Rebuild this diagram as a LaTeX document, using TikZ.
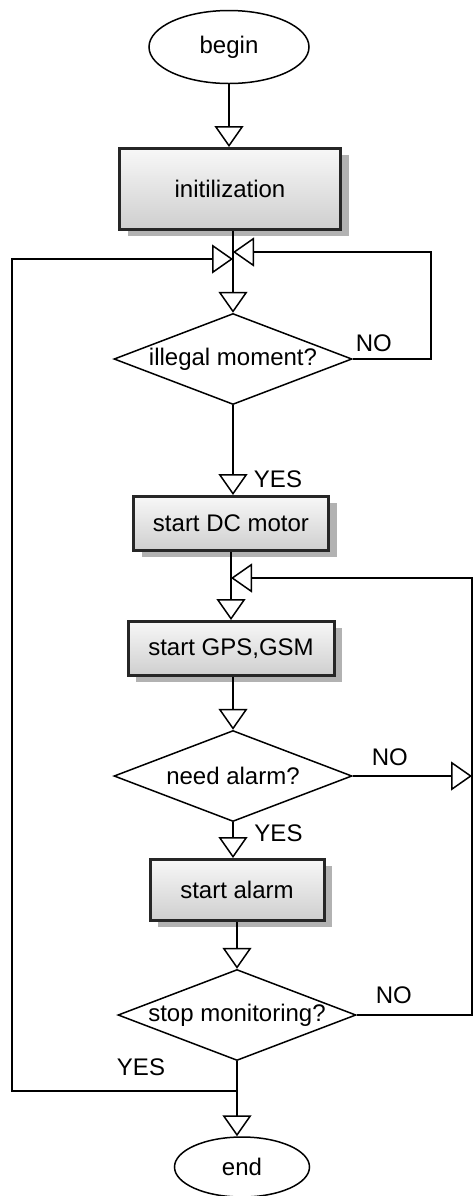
\documentclass[tikz,border=0pt]{standalone}
\usepackage{fontspec}
\setmainfont{Liberation Sans}
\usetikzlibrary{positioning,shapes.geometric,arrows.meta,shadows}

\begin{document}
\begin{tikzpicture}[%
x=0.5pt, y=0.5pt,
node distance=60pt,
on grid,
font=\fontsize{12}{14}\selectfont,
line width=0.75pt,
flow/.style={draw, -{Triangle[length=10.5pt,width=14.5pt,fill=white]}},
term/.style={ellipse, draw, inner sep=0pt},
proc/.style={rectangle, draw=black!85, line width=1.5pt, top color=gray!6,
  bottom color=gray!38, minimum height=27pt,
  drop shadow={shadow xshift=4pt, shadow yshift=-3pt, fill=gray!60, opacity=1}},
test/.style={diamond, draw, aspect=2.6, inner sep=0pt,
  minimum width=119pt, minimum height=45.5pt},
lbl/.style={inner sep=0pt}
]
\useasboundingbox (0,0) rectangle (473,-1196);

\node[term, minimum width=80pt, minimum height=36.5pt] (begin) at (229,-47) {begin};
\node[proc, minimum width=110.5pt, minimum height=40.5pt] (init) [below=71pt of begin, xshift=0.5pt] {initilization};
\node[test] (illegal) [below=85pt of init, xshift=1.5pt] {illegal moment?};
\node[proc, minimum width=97.5pt] (dc) [below=82.25pt of illegal, xshift=-1pt] {start DC motor};
\node[proc, minimum width=103pt] (gps) [below=62.5pt of dc] {start GPS,GSM};
\node[test] (need) [below=63.75pt of gps, xshift=1pt] {need alarm?};
\node[proc, minimum width=87pt, minimum height=30.5pt] (alarm) [below=57pt of need, xshift=2pt] {start alarm};
\node[test] (stop) [below=62.5pt of alarm] {stop monitoring?};
\node[term, minimum width=67.5pt, minimum height=30pt] (end) [below=76pt of stop, xshift=2.5pt] {end};

\coordinate (jr) at (illegal.north |- 0,-252);
\coordinate (jl) at (illegal.north |- 0,-259);
\coordinate (mg) at (dc.south |- 0,-578);
\coordinate (fk) at (stop.south |- 0,-1091);
\coordinate (lx) at (12,0);
\coordinate (rn) at (431,0);
\coordinate (rx) at (472,0);

\draw[flow] (begin.south) -- (begin.south |- init.north);
\draw[flow] (init.south -| illegal.north) -- (illegal.north);
\draw[flow] (illegal.east) -- (illegal.east -| rn) |- (jr);
\draw[flow] (illegal.south) -- (illegal.south |- dc.north);
\draw[flow] (dc.south) -- (dc.south |- gps.north);
\draw[flow] (need.north |- gps.south) -- (need.north);
\draw[flow] (need.east) -- (need.east -| rx);
\draw[flow] (need.south) -- (need.south |- alarm.north);
\draw[flow] (stop.north |- alarm.south) -- (stop.north);
\draw[flow] (stop.east) -- (stop.east -| rx) |- (mg);
\draw[flow] (stop.south) -- (stop.south |- end.north);
\draw[flow] (fk) -- (fk -| lx) |- (jl);

\node[lbl] (no1) at ([shift={(21,16)}]illegal.east) {NO};
\node[lbl] (yes1) at ([shift={(47,16)}]dc.north) {YES};
\node[lbl] (no2) at ([shift={(37,19)}]need.east) {NO};
\node[lbl] (yes2) at ([shift={(45.5,-11)}]need.south) {YES};
\node[lbl] (no3) at ([shift={(37,20)}]stop.east) {NO};
\node[lbl] (yes3) at ([shift={(-96,-6)}]stop.south) {YES};

\end{tikzpicture}
\end{document}
